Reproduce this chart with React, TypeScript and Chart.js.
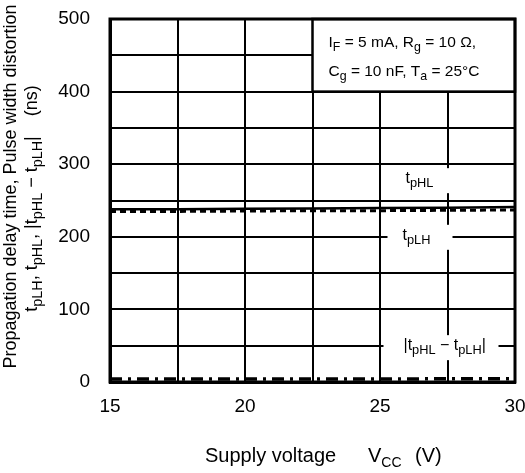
import React, { useEffect, useRef } from "react";
import { Chart, registerables } from "chart.js";

Chart.register(...registerables);

const voltages = [15, 17.5, 20, 22.5, 25, 27.5, 30];
const tpHL = [238, 238, 238.5, 239, 239.5, 240, 241];
const tpLH = [235, 235, 235.5, 236, 236, 236.5, 237];
const pwd = [4, 4, 4, 4, 4, 4.5, 4.5];

const xTickLabels = [15, 20, 25, 30];
const yTickLabels = [0, 100, 200, 300, 400, 500];

const FONT = '"Liberation Sans", Arial, Helvetica, sans-serif';

type Seg = { t: string; sub?: boolean };

function richWidth(ctx: CanvasRenderingContext2D, segs: Seg[], size: number, subScale: number) {
  let w = 0;
  for (const s of segs) {
    ctx.font = `${s.sub ? size * subScale : size}px ${FONT}`;
    w += ctx.measureText(s.t).width;
  }
  return w;
}

function drawRich(
  ctx: CanvasRenderingContext2D,
  segs: Seg[],
  x: number,
  y: number,
  size: number,
  align: "left" | "center" | "right",
  subScale = 0.8
) {
  const w = richWidth(ctx, segs, size, subScale);
  let cx = align === "left" ? x : align === "center" ? x - w / 2 : x - w;
  ctx.textAlign = "left";
  ctx.textBaseline = "alphabetic";
  for (const s of segs) {
    ctx.font = `${s.sub ? size * subScale : size}px ${FONT}`;
    ctx.fillText(s.t, cx, y + (s.sub ? size * 0.25 : 0));
    cx += ctx.measureText(s.t).width;
  }
}

const annotPlugin = {
  id: "annot",
  afterDatasetsDraw(chart: any) {
    const ctx: CanvasRenderingContext2D = chart.ctx;
    const xs = chart.scales.x;
    const ys = chart.scales.y;
    const ca = chart.chartArea;
    ctx.save();

    // condition box
    const bx0 = xs.getPixelForValue(22.5);
    const bx1 = xs.getPixelForValue(30);
    const by0 = ys.getPixelForValue(500);
    const by1 = ys.getPixelForValue(400);
    ctx.fillStyle = "#fff";
    ctx.fillRect(bx0, by0, bx1 - bx0, by1 - by0);
    ctx.strokeStyle = "#000";
    ctx.lineWidth = 2.5;
    ctx.strokeRect(bx0, by0, bx1 - bx0, by1 - by0);
    ctx.fillStyle = "#000";
    drawRich(
      ctx,
      [{ t: "I" }, { t: "F", sub: true }, { t: " = 5 mA, R" }, { t: "g", sub: true }, { t: " = 10 Ω," }],
      bx0 + 16,
      by0 + 28,
      15.5,
      "left"
    );
    drawRich(
      ctx,
      [{ t: "C" }, { t: "g", sub: true }, { t: " = 10 nF, T" }, { t: "a", sub: true }, { t: " = 25°C" }],
      bx0 + 16,
      by0 + 57,
      15.5,
      "left"
    );

    // curve labels with white backgrounds
    const gx = xs.getPixelForValue(27.5);
    const labels: { segs: Seg[]; bx: number; bw: number; cy: number; tx: number }[] = [
      { segs: [{ t: "t" }, { t: "pHL", sub: true }], bx: gx - 60, bw: 65, cy: ys.getPixelForValue(278), tx: gx - 42 },
      { segs: [{ t: "t" }, { t: "pLH", sub: true }], bx: gx - 60, bw: 65, cy: ys.getPixelForValue(200), tx: gx - 45 },
      {
        segs: [{ t: "|t" }, { t: "pHL", sub: true }, { t: " − t" }, { t: "pLH", sub: true }, { t: "|" }],
        bx: gx - 64,
        bw: 115,
        cy: ys.getPixelForValue(48),
        tx: gx - 44,
      },
    ];
    for (const l of labels) {
      ctx.fillStyle = "#fff";
      ctx.fillRect(l.bx, l.cy - 12, l.bw, 25);
      ctx.fillStyle = "#000";
      drawRich(ctx, l.segs, l.tx, l.cy + 3, 16, "left");
    }

    // border redraw
    ctx.strokeStyle = "#000";
    ctx.lineWidth = 3;
    ctx.strokeRect(ca.left, ca.top, ca.right - ca.left, ca.bottom - ca.top);

    // axis titles
    ctx.fillStyle = "#000";
    ctx.save();
    ctx.translate(16, (ca.top + ca.bottom) / 2 - 14);
    ctx.rotate(-Math.PI / 2);
    drawRich(ctx, [{ t: "Propagation delay time, Pulse width distortion" }], 0, 0, 18, "center");
    ctx.restore();
    ctx.save();
    ctx.translate(37, (ca.top + ca.bottom) / 2 - 2);
    ctx.rotate(-Math.PI / 2);
    drawRich(
      ctx,
      [
        { t: "t" },
        { t: "pLH", sub: true },
        { t: ", t" },
        { t: "pHL", sub: true },
        { t: ", |t" },
        { t: "pHL", sub: true },
        { t: " − t" },
        { t: "pLH", sub: true },
        { t: "|    (ns)" },
      ],
      0,
      0,
      18,
      "center"
    );
    ctx.restore();

    const ty = ca.bottom + 80;
    drawRich(ctx, [{ t: "Supply voltage" }], ca.left + 95, ty, 20, "left");
    drawRich(ctx, [{ t: "V" }, { t: "CC", sub: true }], ca.left + 258, ty, 20, "left", 0.7);
    drawRich(ctx, [{ t: "(V)" }], ca.left + 305, ty, 20, "left");
    ctx.restore();
  },
};

export default function App() {
  const ref = useRef<HTMLCanvasElement>(null);
  useEffect(() => {
    if (!ref.current) return;
    const chart = new Chart(ref.current, {
      type: "line",
      data: {
        datasets: [
          {
            label: "tpHL",
            data: voltages.map((v, i) => ({ x: v, y: tpHL[i] })),
            borderColor: "#000",
            borderWidth: 2.5,
            pointRadius: 0,
            fill: false,
          },
          {
            label: "tpLH",
            data: voltages.map((v, i) => ({ x: v, y: tpLH[i] })),
            borderColor: "#000",
            borderWidth: 3,
            borderDash: [6, 4],
            pointRadius: 0,
            fill: false,
          },
          {
            label: "|tpHL - tpLH|",
            data: voltages.map((v, i) => ({ x: v, y: pwd[i] })),
            borderColor: "#000",
            borderWidth: 3.5,
            borderDash: [12, 6, 3, 6],
            pointRadius: 0,
            fill: false,
          },
        ],
      },
      options: {
        animation: false,
        responsive: false,
        maintainAspectRatio: false,
        layout: { padding: { top: 19, right: 10, left: 0, bottom: 0 } },
        plugins: { legend: { display: false }, tooltip: { enabled: false }, title: { display: false } },
        scales: {
          x: {
            type: "linear",
            min: 15,
            max: 30,
            afterFit: (s: any) => {
              s.height = 91;
              s.paddingLeft = 0;
              s.paddingRight = 0;
            },
            ticks: {
              stepSize: 2.5,
              autoSkip: false,
              maxRotation: 0,
              padding: 13,
              color: "#000",
              font: { family: FONT, size: 19 },
              callback: (v: any) => (xTickLabels.includes(Number(v)) ? String(v) : ""),
            },
            grid: { color: "#000", lineWidth: 2, drawTicks: false },
            border: { color: "#000", width: 3 },
          },
          y: {
            min: 0,
            max: 500,
            afterFit: (s: any) => {
              s.width = 110;
              s.paddingTop = 0;
              s.paddingBottom = 0;
            },
            ticks: {
              stepSize: 50,
              autoSkip: false,
              padding: 20,
              color: "#000",
              font: { family: FONT, size: 19 },
              callback: (v: any) => (yTickLabels.includes(Number(v)) ? String(v) : ""),
            },
            grid: { color: "#000", lineWidth: 2, drawTicks: false },
            border: { color: "#000", width: 3 },
          },
        },
      },
      plugins: [annotPlugin],
    });
    return () => chart.destroy();
  }, []);
  return (
    <div style={{ position: "fixed", left: 0, top: 0, width: 525, height: 473, background: "#fff" }}>
      <canvas ref={ref} width={525} height={473} style={{ width: 525, height: 473 }} />
    </div>
  );
}
